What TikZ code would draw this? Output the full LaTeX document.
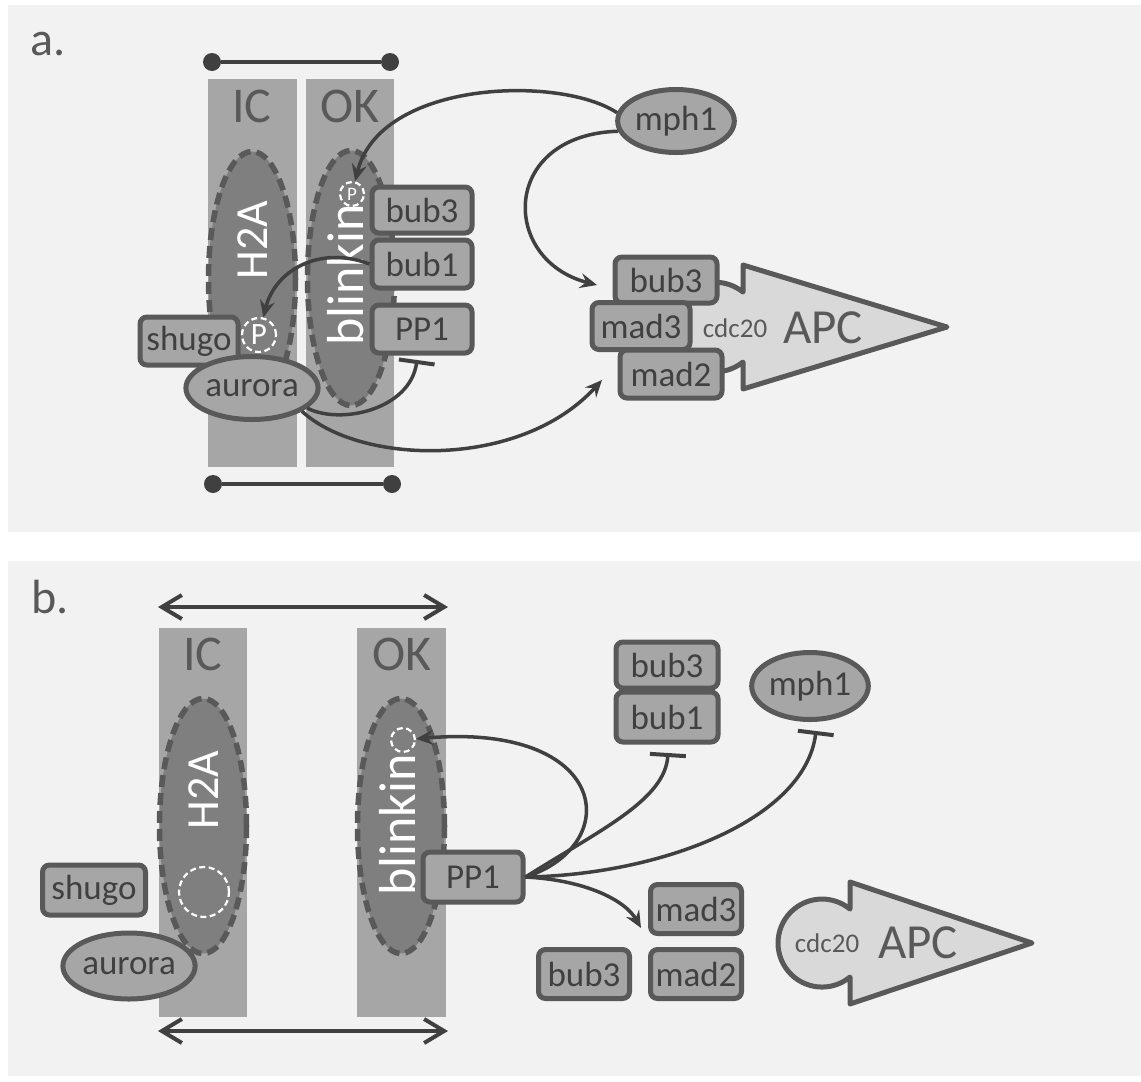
\documentclass[tikz,border=0pt]{standalone}
\usepackage{fontspec}
\setmainfont{Carlito}
\usetikzlibrary{arrows.meta,shapes.geometric}

\definecolor{panelbg}{HTML}{F2F2F2}
\definecolor{lanegray}{HTML}{A6A6A6}
\definecolor{ovalgray}{HTML}{7F7F7F}
\definecolor{edgegray}{HTML}{595959}
\definecolor{inkgray}{HTML}{404040}
\definecolor{apcgray}{HTML}{D9D9D9}

\newcommand{\fs}[1]{\fontsize{#1pt}{#1pt}\selectfont}

\tikzset{
  tag/.style={anchor=base west, text=edgegray, font=\fs{48}, inner sep=0pt},
  lane/.style={rectangle, fill=lanegray, draw=none, inner sep=0pt, outer sep=0pt},
  lanetitle/.style={anchor=base, text=edgegray, font=\fs{50}, inner sep=0pt},
  oval/.style={ellipse, fill=ovalgray, draw=edgegray, line width=5.5pt,
    dash pattern=on 12pt off 6pt, inner sep=0pt,
    minimum width=87pt, minimum height=255pt},
  vlabel/.style={rotate=90, anchor=base, text=white, inner sep=0pt},
  site/.style={circle, draw=white, line width=2.2pt, dash pattern=on 6pt off 3.5pt,
    text=white, inner sep=0pt},
  prot/.style={rectangle, rounded corners=7pt, fill=lanegray, draw=edgegray,
    line width=5pt, text=inkgray, font=\fs{35}, inner sep=0pt},
  protoval/.style={ellipse, fill=lanegray, draw=edgegray, line width=5pt,
    text=inkgray, font=\fs{35}, inner sep=0pt},
  apc/.style={fill=apcgray, draw=edgegray, line width=5pt, line join=round},
  apctext/.style={text=edgegray, inner sep=0pt},
  link/.style={draw=inkgray, line width=3.5pt,
    -{Stealth[length=17pt,width=15pt,inset=6pt]}},
  block/.style={draw=inkgray, line width=3.5pt, -{Bar[width=36pt,line width=4pt]}},
  dot/.style={circle, fill=inkgray, minimum size=18pt, inner sep=0pt},
  scalebar/.style={draw=inkgray, line width=4pt},
  span/.style={draw=inkgray, line width=4pt,
    {Straight Barb[length=20pt,width=24pt]}-{Straight Barb[length=20pt,width=24pt]}}
}

\begin{document}
\begin{tikzpicture}[x=1pt,y=-1pt]
\useasboundingbox (0,0) rectangle (1141,1082);
\fill[white] (0,0) rectangle (1141,1082);
\fill[panelbg] (8,5) rectangle (1141,532);
\fill[panelbg] (8,561) rectangle (1141,1076);

% ---------------- panel a: attached kinetochore ----------------
\node[tag] (laba) at (30,55) {a.};

\node[dot] (da1) at (212,62) {};
\node[dot] (da2) at (390,62) {};
\draw[scalebar] (da1) -- (da2);
\node[dot] (da3) at (213,484) {};
\node[dot] (da4) at (392,484) {};
\draw[scalebar] (da3) -- (da4);

\node[lane, minimum width=89pt, minimum height=388pt] (ica) at (252.5,273) {};
\node[lane, minimum width=88pt, minimum height=388pt] (oka) at (350,273) {};
\node[lanetitle] (ica-t) at (252,122) {IC};
\node[lanetitle] (oka-t) at (350,122) {OK};

\node[oval] (h2aa) at (252,279) {};
\node[oval] (blka) at (351,278) {};
\node[vlabel, font=\fs{46}] (h2aa-t) at (267,240) {H2A};
\node[vlabel, font=\fs{52}] (blka-t) at (363,275) {blinkin};

\node[site, minimum size=34pt, font=\fs{31}] (pa1) at (259,335) {P};
\node[site, minimum size=24pt, font=\fs{19}] (pa2) at (352,194) {P};

\node[prot, minimum width=98pt, minimum height=48pt] (shugoa) at (189,341) {shugo};
\node[protoval, minimum width=111pt, minimum height=63pt] (auroraa) at (252,388) {aurora};

\node[prot, minimum width=100pt, minimum height=46pt] (bub3a) at (422,210) {bub3};
\node[prot, minimum width=100pt, minimum height=48pt] (bub1a) at (422,264) {bub1};
\node[prot, minimum width=100pt, minimum height=48pt] (pp1a) at (422,329) {PP1};

\node[protoval, minimum width=112pt, minimum height=63pt] (mph1a) at (676,121) {mph1};

% checkpoint complex bound to cdc20 / APC
\draw[apc] (743,292) -- (743,265) -- (947,327) -- (743,389) -- (743,362)
  arc[start angle=-51.3, end angle=-308.7, radius=44.8pt] -- cycle;
\node[apctext, font=\fs{27}] (cdca) at (735,328) {cdc20};
\node[apctext, font=\fs{49}] (apca) at (823,328) {APC};
\node[prot, minimum width=102pt, minimum height=46pt] (cbub3a) at (666,280) {bub3};
\node[prot, minimum width=98pt, minimum height=47pt] (mad3a) at (641,326) {mad3};
\node[prot, minimum width=102pt, minimum height=48pt] (mad2a) at (671,374) {mad2};

\coordinate (ina) at (597,285);
\coordinate (inb) at (602,380);
\coordinate (bara) at (417,360);

\draw[link] (mph1a.172) .. controls (560,75) and (380,80) .. (pa2);
\draw[link] (mph1a.190) .. controls (500,135) and (500,260) .. (ina);
\draw[link] (bub1a.west) .. controls (320,245) and (275,270) .. (pa1);
\draw[block] (auroraa.-20) .. controls (340,425) and (410,410) .. (bara);
\draw[link] (auroraa.-25) .. controls (360,465) and (520,470) .. (inb);

% ---------------- panel b: tensionless kinetochore ----------------
\node[tag] (labb) at (31,613) {b.};

\coordinate (sa1) at (158,607);
\coordinate (sa2) at (448,607);
\draw[span] (sa1) -- (sa2);
\coordinate (sb1) at (158,1031);
\coordinate (sb2) at (448,1031);
\draw[span] (sb1) -- (sb2);

\node[lane, minimum width=88pt, minimum height=389pt] (icb) at (203,822.5) {};
\node[lane, minimum width=89pt, minimum height=389pt] (okb) at (401.5,822.5) {};
\node[lanetitle] (icb-t) at (203,670) {IC};
\node[lanetitle] (okb-t) at (402,670) {OK};

\node[oval] (h2ab) at (203,826) {};
\node[oval] (blkb) at (401,826) {};
\node[vlabel, font=\fs{46}] (h2ab-t) at (218,790) {H2A};
\node[vlabel, font=\fs{52}] (blkb-t) at (415,825) {blinkin};

\node[site, minimum size=50pt] (pb1) at (204,892) {};
\node[site, minimum size=24pt] (pb2) at (403,740) {};

\node[prot, minimum width=103pt, minimum height=50pt] (shugob) at (94,890) {shugo};
\node[protoval, minimum width=113pt, minimum height=66pt] (aurorab) at (129,966) {aurora};

\node[prot, minimum width=100pt, minimum height=50pt] (pp1b) at (473,877) {PP1};
\node[prot, minimum width=102pt, minimum height=46pt] (bub3b) at (667,665) {bub3};
\node[prot, minimum width=102pt, minimum height=50pt] (bub1b) at (667,717) {bub1};
\node[protoval, minimum width=115pt, minimum height=67pt] (mph1b) at (810,686) {mph1};

\node[prot, minimum width=91pt, minimum height=49pt] (mad3b) at (696,909) {mad3};
\node[prot, minimum width=91pt, minimum height=49pt] (mad2b) at (696,974) {mad2};
\node[prot, minimum width=91pt, minimum height=49pt] (bub3c) at (584,974) {bub3};

\draw[apc] (850,909) -- (850,882) -- (1032,943) -- (850,1004) -- (850,977)
  arc[start angle=-50.5, end angle=-309.5, radius=44pt] -- cycle;
\node[apctext, font=\fs{27}] (cdcb) at (827,943) {cdc20};
\node[apctext, font=\fs{49}] (apcb) at (918,943) {APC};

\coordinate (barb1) at (668,753);
\coordinate (barb2) at (816,731);
\coordinate (madin) at (641,928);

\draw[link] (pp1b.east) .. controls (625,845) and (610,722) .. (pb2);
\draw[block] (pp1b.east) .. controls (600,830) and (665,800) .. (barb1);
\draw[block] (pp1b.east) .. controls (660,875) and (805,820) .. (barb2);
\draw[link] (pp1b.east) .. controls (585,880) and (625,900) .. (madin);

\end{tikzpicture}
\end{document}
